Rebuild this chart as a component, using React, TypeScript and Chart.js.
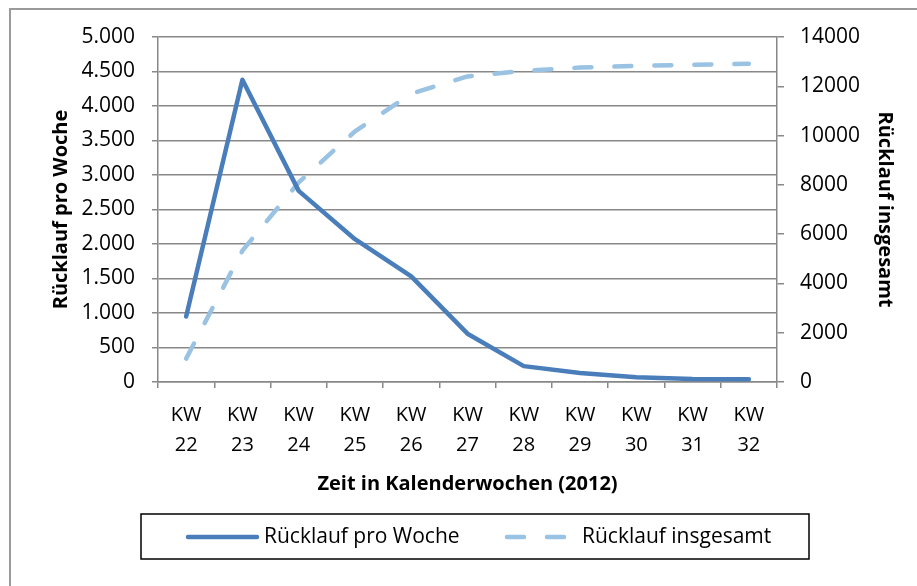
import React, { useEffect, useRef } from "react";
import { Chart, registerables } from "chart.js";

Chart.register(...registerables);

const categories: string[][] = [
  ["KW", "22"], ["KW", "23"], ["KW", "24"], ["KW", "25"], ["KW", "26"], ["KW", "27"],
  ["KW", "28"], ["KW", "29"], ["KW", "30"], ["KW", "31"], ["KW", "32"],
];
const weekly: number[] = [950, 4380, 2770, 2070, 1530, 700, 230, 130, 70, 45, 40];
const cumulative: number[] = [950, 5330, 8100, 10170, 11700, 12400, 12630, 12760, 12830, 12875, 12915];
const seriesNames: string[] = ["Rücklauf pro Woche", "Rücklauf insgesamt"];
const xTitle = "Zeit in Kalenderwochen (2012)";
const yLeftTitle = "Rücklauf pro Woche";
const yRightTitle = "Rücklauf insgesamt";

const FONT = "'Open Sans', 'DejaVu Sans', sans-serif";
const DARK = "#4A7EBB";
const LIGHT = "#99C2E3";
const GRID = "#888888";

function fmtDE(v: number): string {
  const s = Math.round(v).toString();
  return s.replace(/\B(?=(\d{3})+(?!\d))/g, ".");
}

const frameAndLegend = {
  id: "frameAndLegend",
  afterDraw(chart: any) {
    const ctx = chart.ctx as CanvasRenderingContext2D;
    ctx.save();
    // outer frame
    ctx.strokeStyle = "#9a9a9a";
    ctx.lineWidth = 2;
    ctx.beginPath();
    ctx.moveTo(10, 600);
    ctx.lineTo(10, 9);
    ctx.lineTo(930, 9);
    ctx.stroke();
    // legend box
    ctx.strokeStyle = "#000000";
    ctx.lineWidth = 1.5;
    ctx.strokeRect(141, 514, 668, 45);
    const ds = chart.data.datasets;
    const items = [
      { x0: 188, x1: 257, tx: 264 },
      { x0: 507, x1: 567, tx: 582 },
    ];
    const cy = 537;
    ctx.font = `21px ${FONT}`;
    ctx.textBaseline = "middle";
    ctx.textAlign = "left";
    ds.forEach((d: any, i: number) => {
      const it = items[i];
      ctx.beginPath();
      ctx.setLineDash(d.borderDash || []);
      ctx.lineCap = "round";
      ctx.strokeStyle = d.borderColor;
      ctx.lineWidth = d.borderWidth;
      ctx.moveTo(it.x0, cy);
      ctx.lineTo(it.x1, cy);
      ctx.stroke();
      ctx.setLineDash([]);
      ctx.fillStyle = "#000";
      ctx.fillText(d.label, it.tx, cy);
    });
    ctx.restore();
  },
};

export default function App() {
  const ref = useRef<HTMLCanvasElement | null>(null);
  useEffect(() => {
    if (!ref.current) return;
    const chart = new Chart(ref.current, {
      type: "line",
      data: {
        labels: categories,
        datasets: [
          {
            label: seriesNames[0],
            data: weekly,
            yAxisID: "y",
            borderColor: DARK,
            backgroundColor: DARK,
            borderWidth: 4.5,
            pointRadius: 0,
            borderCapStyle: "round",
            borderJoinStyle: "round",
            tension: 0,
          },
          {
            label: seriesNames[1],
            data: cumulative,
            yAxisID: "y1",
            borderColor: LIGHT,
            backgroundColor: LIGHT,
            borderWidth: 4.5,
            borderDash: [17, 23],
            pointRadius: 0,
            borderCapStyle: "round",
            borderJoinStyle: "round",
            tension: 0,
          },
        ],
      },
      options: {
        animation: false,
        responsive: false,
        devicePixelRatio: 1,
        layout: { padding: { top: 37, left: 0, right: 0, bottom: 0 } },
        plugins: {
          legend: { display: false },
          tooltip: { enabled: false },
        },
        scales: {
          x: {
            type: "category",
            offset: true,
            grid: {
              display: true,
              drawOnChartArea: false,
              drawTicks: true,
              tickLength: 6,
              color: GRID,
              lineWidth: 1.5,
              offset: true,
            },
            border: { display: true, color: GRID, width: 1.5 },
            ticks: {
              color: "#000",
              font: { family: FONT, size: 20, lineHeight: 30 / 20 },
              padding: 12,
              maxRotation: 0,
              autoSkip: false,
            },
            title: {
              display: true,
              text: xTitle,
              color: "#000",
              font: { family: FONT, size: 20, weight: "bold" },
              padding: { top: 0, bottom: 90 },
            },
            afterFit(scale: any) {
              scale.height = 586 - 382;
            },
          },
          y: {
            position: "left",
            min: 0,
            max: 5000,
            ticks: {
              stepSize: 500,
              color: "#000",
              font: { family: FONT, size: 21 },
              padding: 17,
              callback: (v: any) => fmtDE(Number(v)),
            },
            grid: {
              color: GRID,
              lineWidth: 1.5,
              tickLength: 6,
              drawTicks: true,
            },
            border: { display: true, color: GRID, width: 1.5 },
            title: {
              display: true,
              text: yLeftTitle,
              color: "#000",
              font: { family: FONT, size: 20, weight: "bold" },
              padding: { top: 49, bottom: 0 },
            },
            afterFit(scale: any) {
              scale.width = 158;
            },
          },
          y1: {
            position: "right",
            min: 0,
            max: 14000,
            ticks: {
              stepSize: 2000,
              color: "#000",
              font: { family: FONT, size: 21 },
              padding: 16,
              callback: (v: any) => String(v),
            },
            grid: {
              drawOnChartArea: false,
              color: GRID,
              lineWidth: 1.5,
              tickLength: 7,
            },
            border: { display: true, color: GRID, width: 1.5 },
            title: {
              display: true,
              text: yRightTitle,
              color: "#000",
              font: { family: FONT, size: 20, weight: "bold" },
              padding: { top: 20, bottom: 0 },
            },
            afterFit(scale: any) {
              scale.width = 917 - 777;
            },
          },
        },
      },
      plugins: [frameAndLegend],
    } as any);
    return () => chart.destroy();
  }, []);
  return (
    <div style={{ position: "fixed", left: 0, top: 0, width: 917, height: 586, background: "#fff" }}>
      <canvas ref={ref} width={917} height={586} style={{ display: "block" }} />
    </div>
  );
}
